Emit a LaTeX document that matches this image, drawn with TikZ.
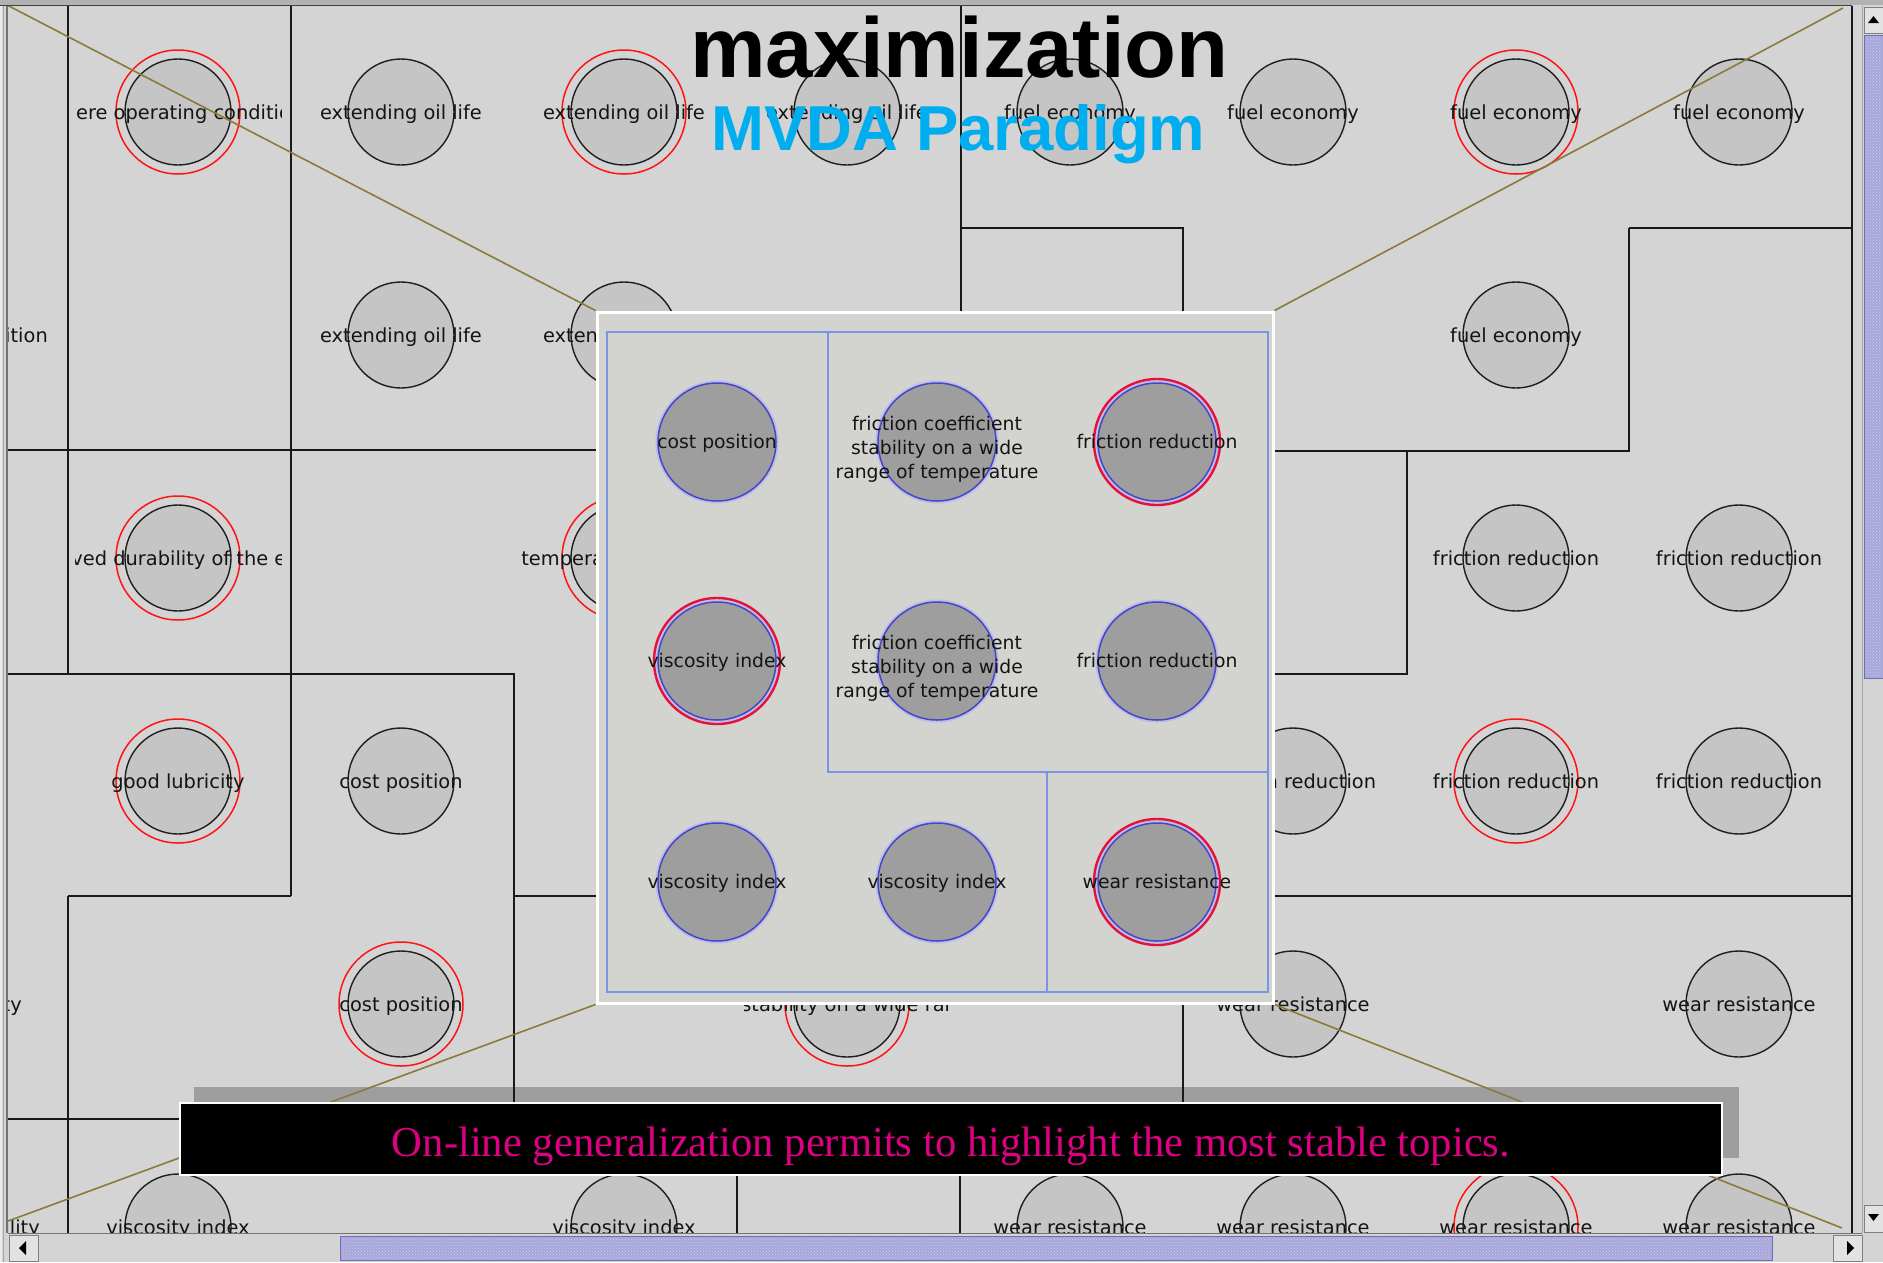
\documentclass[tikz,border=0pt]{standalone}
\usepackage{fontspec}
\newfontfamily\lblfont{DejaVu Sans}
\newfontfamily\headfont{Liberation Sans}
\newfontfamily\capfont{Liberation Serif}
\usetikzlibrary{patterns}

\definecolor{panelgray}{RGB}{212,212,212}
\definecolor{circfill}{RGB}{197,197,197}
\definecolor{circline}{RGB}{30,30,30}
\definecolor{ringred}{RGB}{255,20,20}
\definecolor{treeline}{RGB}{25,25,25}
\definecolor{zoomgold}{RGB}{140,122,58}
\definecolor{ovfill}{RGB}{211,211,207}
\definecolor{ovframe}{RGB}{120,150,225}
\definecolor{ovcfill}{RGB}{158,158,158}
\definecolor{ovcline}{RGB}{70,70,200}
\definecolor{ovhalo}{RGB}{188,188,232}
\definecolor{ovred}{RGB}{230,16,60}
\definecolor{shadowgray}{RGB}{158,158,158}
\definecolor{capmagenta}{RGB}{222,0,130}
\definecolor{mvdablue}{RGB}{0,174,239}
\definecolor{thumbfill}{RGB}{166,166,218}
\definecolor{thumbdot}{RGB}{205,205,242}
\definecolor{thumbedge}{RGB}{112,112,176}
\definecolor{btnface}{RGB}{226,226,226}
\definecolor{edgegray}{RGB}{128,128,128}
\definecolor{labeltext}{RGB}{20,20,20}

\tikzset{
  tree/.style={draw=treeline, line width=2.2pt},
  bgcirc/.style={circle, minimum size=106pt, inner sep=0pt, fill=circfill, draw=circline, line width=1.4pt},
  hot/.style={draw=ringred, line width=1.5pt},
  bglabel/.style={font=\lblfont\fontsize{19.4}{23}\selectfont, text=labeltext, inner sep=0pt, anchor=base},
  zoomline/.style={draw=zoomgold, line width=1.6pt},
  ovpanel/.style={rectangle, minimum width=676pt, minimum height=691pt, inner sep=0pt, fill=ovfill, draw=white, line width=3pt},
  ovbox/.style={draw=ovframe, line width=1.6pt},
  ovcirc/.style={circle, minimum size=118pt, inner sep=0pt, fill=ovcfill, draw=ovcline, line width=1.5pt,
                 preaction={draw=ovhalo, line width=5pt}},
  ovhot/.style={draw=ovred, line width=2.4pt},
  ovlabel/.style={font=\lblfont\fontsize{18.8}{24}\selectfont, text=labeltext, inner sep=0pt, anchor=base},
  capbox/.style={rectangle, minimum width=1542pt, minimum height=72pt, inner sep=0pt, fill=black, draw=white, line width=2.5pt},
  captext/.style={font=\capfont\fontsize{42.6}{48}\selectfont, text=capmagenta, inner sep=0pt, anchor=base},
  thumb/.style={fill=thumbfill, draw=thumbedge, line width=1pt},
  button/.style={fill=btnface, draw=edgegray, line width=1pt}
}

% a topic bubble with its centred label, clipped to the cell width
\newcommand\topic[4]{%
  \node[bgcirc] (#1) at (#2,#3) {};
  \begin{scope}
    \clip (#2-103,#3-30) rectangle (#2+103,#3+30);
    \node[bglabel] (#1-label) at (#2,#3+7) {#4};
  \end{scope}}
% the same bubble, marked as stable by a red ring
\newcommand\hottopic[4]{%
  \draw[hot] (#2,#3) circle (62pt);
  \topic{#1}{#2}{#3}{#4}}

\begin{document}
\begin{tikzpicture}[x=1pt,y=-1pt]
\useasboundingbox (0,0) rectangle (1883,1262);
\fill[panelgray] (0,0) rectangle (1883,1262);

% shadow behind the caption bar
\fill[shadowgray] (194,1087) rectangle (1739,1158);

% ---------- treemap view ----------
\begin{scope}
  \clip (8,6) rectangle (1852,1233);
  % cell borders
  \draw[tree] (68,6) -- (68,674);
  \draw[tree] (291,6) -- (291,896);
  \draw[tree] (7,450) -- (720,450);
  \draw[tree] (7,674) -- (514,674) -- (514,1119);
  \draw[tree] (68,896) -- (291,896);
  \draw[tree] (68,896) -- (68,1233);
  \draw[tree] (7,1119) -- (960,1119);
  \draw[tree] (514,896) -- (1852,896);
  \draw[tree] (961,6) -- (961,450);
  \draw[tree] (961,228) -- (1183,228) -- (1183,420);
  \draw[tree] (1183,896) -- (1183,1119);
  \draw[tree] (737,1119) -- (737,1233);
  \draw[tree] (960,1119) -- (960,1233);
  \draw[tree] (1629,228) -- (1852,228);
  \draw[tree] (1629,228) -- (1629,451) -- (1200,451);
  \draw[tree] (1407,451) -- (1407,674) -- (1200,674);

  % row 1
  \hottopic{t00}{178}{112}{severe operating conditions}
  \topic{t01}{401}{112}{extending oil life}
  \hottopic{t02}{624}{112}{extending oil life}
  \topic{t03}{847}{112}{extending oil life}
  \topic{t04}{1070}{112}{fuel economy}
  \topic{t05}{1293}{112}{fuel economy}
  \hottopic{t06}{1516}{112}{fuel economy}
  \topic{t07}{1739}{112}{fuel economy}
  % row 2
  \node[bglabel, anchor=base east] (e1) at (48,342) {ition};
  \topic{t11}{401}{335}{extending oil life}
  \topic{t12}{624}{335}{extending oil life}
  \topic{t16}{1516}{335}{fuel economy}
  % row 3
  \hottopic{t20}{178}{558}{improved durability of the engine}
  \hottopic{t22}{624}{558}{temperature stability}
  \topic{t26}{1516}{558}{friction reduction}
  \topic{t27}{1739}{558}{friction reduction}
  % row 4
  \hottopic{t30}{178}{781}{good lubricity}
  \topic{t31}{401}{781}{cost position}
  \topic{t35}{1293}{781}{friction reduction}
  \hottopic{t36}{1516}{781}{friction reduction}
  \topic{t37}{1739}{781}{friction reduction}
  % row 5
  \node[bglabel, anchor=base east] (e4) at (22,1011) {lity};
  \hottopic{t41}{401}{1004}{cost position}
  \hottopic{t43}{847}{1004}{friction coefficient stability on a wide range of temperature}
  \topic{t45}{1293}{1004}{wear resistance}
  \topic{t47}{1739}{1004}{wear resistance}
  % row 6
  \node[bglabel, anchor=base east] (e5) at (40,1234) {bility};
  \topic{t50}{178}{1227}{viscosity index}
  \topic{t52}{624}{1227}{viscosity index}
  \topic{t54}{1070}{1227}{wear resistance}
  \topic{t55}{1293}{1227}{wear resistance}
  \hottopic{t56}{1516}{1227}{wear resistance}
  \topic{t57}{1739}{1227}{wear resistance}
\end{scope}

% ---------- magnifier ----------
\coordinate (zTL) at (7,5);
\coordinate (zTR) at (1843,8);
\coordinate (zBL) at (0,1224);
\coordinate (zBR) at (1842,1228);
\node[ovpanel] (ov) at (935,657.5) {};
\draw[zoomline] (zTL) -- (ov.north west);
\draw[zoomline] (zTR) -- (ov.north east);
\draw[zoomline] (zBL) -- (ov.south west);
\draw[zoomline] (zBR) -- (ov.south east);
\node[ovpanel] at (935,657.5) {};

\draw[ovbox] (607,332) rectangle (1268,992);
\draw[ovbox] (828,332) -- (828,772) -- (1268,772);
\draw[ovbox] (1047,772) -- (1047,992);

\node[ovcirc] (o1) at (717,442) {};
\node[ovcirc] (o2) at (937,442) {};
\node[ovcirc] (o3) at (1157,442) {};
\node[ovcirc] (o4) at (717,661) {};
\node[ovcirc] (o5) at (937,661) {};
\node[ovcirc] (o6) at (1157,661) {};
\node[ovcirc] (o7) at (717,882) {};
\node[ovcirc] (o8) at (937,882) {};
\node[ovcirc] (o9) at (1157,882) {};
\draw[ovhot] (o3.center) circle (63pt);
\draw[ovhot] (o4.center) circle (63pt);
\draw[ovhot] (o9.center) circle (63pt);

\node[ovlabel] (o1-label) at (717,448) {cost position};
\node[ovlabel] (o2-label) at (937,430) {\begin{tabular}[t]{@{}c@{}}friction coefficient\\stability on a wide\\range of temperature\end{tabular}};
\node[ovlabel] (o3-label) at (1157,448) {friction reduction};
\node[ovlabel] (o4-label) at (717,667) {viscosity index};
\node[ovlabel] (o5-label) at (937,649) {\begin{tabular}[t]{@{}c@{}}friction coefficient\\stability on a wide\\range of temperature\end{tabular}};
\node[ovlabel] (o6-label) at (1157,667) {friction reduction};
\node[ovlabel] (o7-label) at (717,888) {viscosity index};
\node[ovlabel] (o8-label) at (937,888) {viscosity index};
\node[ovlabel] (o9-label) at (1157,888) {wear resistance};

% ---------- caption ----------
\node[capbox] (cap) at (951,1139) {};
\node[captext] (cap-text) at (951,1156.5) {On-line generalization permits to highlight the most stable topics.};

% ---------- title ----------
\node[font=\headfont\bfseries\fontsize{85}{90}\selectfont, inner sep=0pt, anchor=base] (head) at (959.5,77) {maximization};
\node[font=\headfont\bfseries\fontsize{63.5}{66}\selectfont, text=mvdablue, inner sep=0pt, anchor=base] (sub) at (958.5,150) {MVDA Paradigm};

% ---------- window frame ----------
\fill[gray!60] (0,0) rectangle (1883,5);
\draw[black!75, line width=1.5pt] (0,5.5) -- (1852,5.5);
\fill[panelgray] (0,6) rectangle (7,1233);
\draw[white!92!black, line width=1.5pt] (1,6) -- (1,1262);
\draw[black!35, line width=1.2pt] (3.5,6) -- (3.5,1262);
\draw[black!55, line width=1.5pt] (7,6) -- (7,1233);
\draw[treeline, line width=2pt] (1852,6) -- (1852,1233);
\fill[panelgray] (1853,6) rectangle (1883,1262);
\draw[black!35, line width=1pt] (1862.5,6) -- (1862.5,1233);

% vertical scroll bar
\draw[button] (1864,7) rectangle (1883,33);
\fill (1868,23) -- (1879,23) -- (1873.5,16) -- cycle;
\draw[thumb] (1864,35) rectangle (1883,678);
\fill[pattern=crosshatch dots, pattern color=thumbdot] (1865,36) rectangle (1882,677);
\draw[button] (1864,1205) rectangle (1883,1232);
\fill (1868,1214) -- (1879,1214) -- (1873.5,1221) -- cycle;

% horizontal scroll bar
\fill[panelgray] (8,1233) rectangle (1883,1262);
\draw[black!55, line width=1pt] (8,1233.5) -- (1862,1233.5);
\draw[button] (9,1235) rectangle (38,1261);
\fill (19,1248) -- (26,1241) -- (26,1255) -- cycle;
\draw[thumb] (340,1236) rectangle (1772,1260);
\fill[pattern=crosshatch dots, pattern color=thumbdot] (341,1237) rectangle (1771,1259);
\draw[button] (1833,1235) rectangle (1862,1261);
\fill (1854,1248) -- (1847,1241) -- (1847,1255) -- cycle;
\end{tikzpicture}
\end{document}
